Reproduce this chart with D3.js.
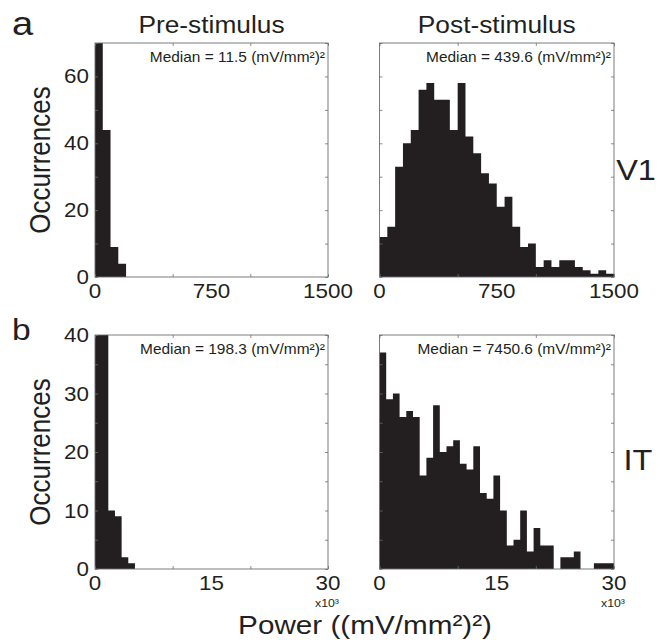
<!DOCTYPE html>
<html>
<head>
<meta charset="utf-8">
<script src="https://cdn.jsdelivr.net/npm/d3@7"></script>
<style>
  body { margin: 0; background: #fff; }
  svg { display: block; }
  text { font-family: "Liberation Sans", Arial, Helvetica, sans-serif; fill: #231f20; }
</style>
</head>
<body>
<div id="chart"></div>
<script>
// histogram counts (first bins of the pre-stimulus panels run off the top)
var v1PreCounts = [656, 44, 9, 4];
var v1PostCounts = [12, 15, 33, 40, 44, 56, 58, 53, 53, 44, 58, 42, 37, 31, 28, 21, 24, 15, 9, 10, 3, 5, 3, 5, 5, 3, 2, 1, 2, 1];
var itPreCounts = [300, 133, 10, 9, 2, 1];
var itPostCounts = [37, 29, 30, 26, 27, 26, 16, 19, 28, 20, 21, 22, 18, 17, 21, 13, 12, 16, 10, 4, 5, 10, 3, 7, 4, 4, 0, 2, 2, 3, 0, 0, 1, 1, 1];
var v1BinWidth = 50, itBinWidth = 857.14;

var v1Medians = ["11.5", "439.6"];
var itMedians = ["198.3", "7450.6"];
var columnTitles = ["Pre-stimulus", "Post-stimulus"];

var v1XTicks = [0, 500, 1000, 1500], v1XLabels = [0, 750, 1500];
var v1YTicks = [0, 10, 20, 30, 40, 50, 60, 70], v1YLabels = [0, 20, 40, 60];
var itXTicks = [0, 10000, 20000, 30000], itXLabels = [0, 15000, 30000];
var itYTicks = [0, 5, 10, 15, 20, 25, 30, 35, 40], itYLabels = [0, 10, 20, 30, 40];

var W = 664, H = 644;
var ink = "#231f20", frame = "#6d6e71";
var sx = 1.12; // reference text is a little wider than Arial

var svg = d3.select("#chart").append("svg")
    .attr("width", W)
    .attr("height", H);

var cols = [[95, 328], [379.5, 614]];
var rows = [[43, 277], [335, 569]];

function label(x, y, str, size, anchor, rot) {
  return svg.append("text")
    .attr("transform", "translate(" + x + "," + y + ") scale(" + sx + ",1)" + (rot ? " rotate(-90)" : ""))
    .attr("text-anchor", anchor || "start")
    .style("font-size", size + "px")
    .text(str);
}

var panelId = 0;
function panel(c, r, counts, binW, xMax, yMax, xTicks, xLabels, yTicks, yLabels, median, fmtX, showY) {
  var x0 = cols[c][0], x1 = cols[c][1], y0 = rows[r][0], y1 = rows[r][1];
  var x = d3.scaleLinear().domain([0, xMax]).range([x0, x1]);
  var y = d3.scaleLinear().domain([0, yMax]).range([y1, y0]);
  var id = "clip" + (panelId++);

  svg.append("clipPath").attr("id", id)
    .append("rect").attr("x", x0).attr("y", y0).attr("width", x1 - x0).attr("height", y1 - y0);

  var g = svg.append("g");

  // one stepped shape per histogram so neighbouring bins don't show seams
  var pts = counts.map(function(d, i) { return [i * binW, d]; });
  pts.push([counts.length * binW, counts[counts.length - 1]]);
  var area = d3.area()
    .x(function(d) { return x(d[0]); })
    .y0(y(0))
    .y1(function(d) { return y(d[1]); })
    .curve(d3.curveStepAfter);

  g.append("path")
    .datum(pts)
    .attr("clip-path", "url(#" + id + ")")
    .attr("d", area)
    .style("fill", ink);

  // inward ticks on all four sides
  var tl = 3;
  g.append("g").attr("transform", "translate(0," + y1 + ")")
    .call(d3.axisBottom(x).tickValues(xTicks).tickSize(-tl).tickFormat(""));
  g.append("g").attr("transform", "translate(0," + y0 + ")")
    .call(d3.axisTop(x).tickValues(xTicks).tickSize(-tl).tickFormat(""));
  g.append("g").attr("transform", "translate(" + x0 + ",0)")
    .call(d3.axisLeft(y).tickValues(yTicks).tickSize(-tl).tickFormat(""));
  g.append("g").attr("transform", "translate(" + x1 + ",0)")
    .call(d3.axisRight(y).tickValues(yTicks).tickSize(-tl).tickFormat(""));
  g.selectAll(".domain").remove();
  g.selectAll(".tick line").style("stroke", frame).style("stroke-width", 0.8);

  g.append("rect")
    .attr("x", x0).attr("y", y0)
    .attr("width", x1 - x0).attr("height", y1 - y0)
    .style("fill", "none")
    .style("stroke", frame)
    .style("stroke-width", 0.9);

  // tick labels
  xLabels.forEach(function(v) {
    label(x(v), y1 + 21, fmtX(v), 20, "middle");
  });
  if (showY) {
    yLabels.forEach(function(v) {
      label(x0 - 6, y(v) + 7, v, 20, "end");
    });
  }

  label(x1 - 3, y0 + 19, "Median = " + median + " (mV/mm²)²", 13.8, "end");
}

var plain = function(v) { return String(v); };
var kilo = function(v) { return String(v / 1000); };

panel(0, 0, v1PreCounts, v1BinWidth, 1500, 70, v1XTicks, v1XLabels, v1YTicks, v1YLabels, v1Medians[0], plain, true);
panel(1, 0, v1PostCounts, v1BinWidth, 1500, 70, v1XTicks, v1XLabels, v1YTicks, v1YLabels, v1Medians[1], plain, false);
panel(0, 1, itPreCounts, itBinWidth, 30000, 40, itXTicks, itXLabels, itYTicks, itYLabels, itMedians[0], kilo, true);
panel(1, 1, itPostCounts, itBinWidth, 30000, 40, itXTicks, itXLabels, itYTicks, itYLabels, itMedians[1], kilo, false);

// titles and labels
label((cols[0][0] + cols[0][1]) / 2, 33, columnTitles[0], 23.5, "middle");
label((cols[1][0] + cols[1][1]) / 2, 33, columnTitles[1], 23.5, "middle");
label(50, (rows[0][0] + rows[0][1]) / 2, "Occurrences", 26, "middle", true);
label(50, (rows[1][0] + rows[1][1]) / 2, "Occurrences", 26, "middle", true);
label(636, 180, "V1", 29, "middle");
label(638, 470, "IT", 29, "middle");
label(12, 35, "a", 34, "start");
label(12, 340, "b", 30, "start");
label(cols[0][1] - 1, 607, "x10³", 11, "middle");
label(cols[1][1] - 1, 607, "x10³", 11, "middle");
label(365, 634, "Power ((mV/mm²)²)", 26.5, "middle");
</script>
</body>
</html>
